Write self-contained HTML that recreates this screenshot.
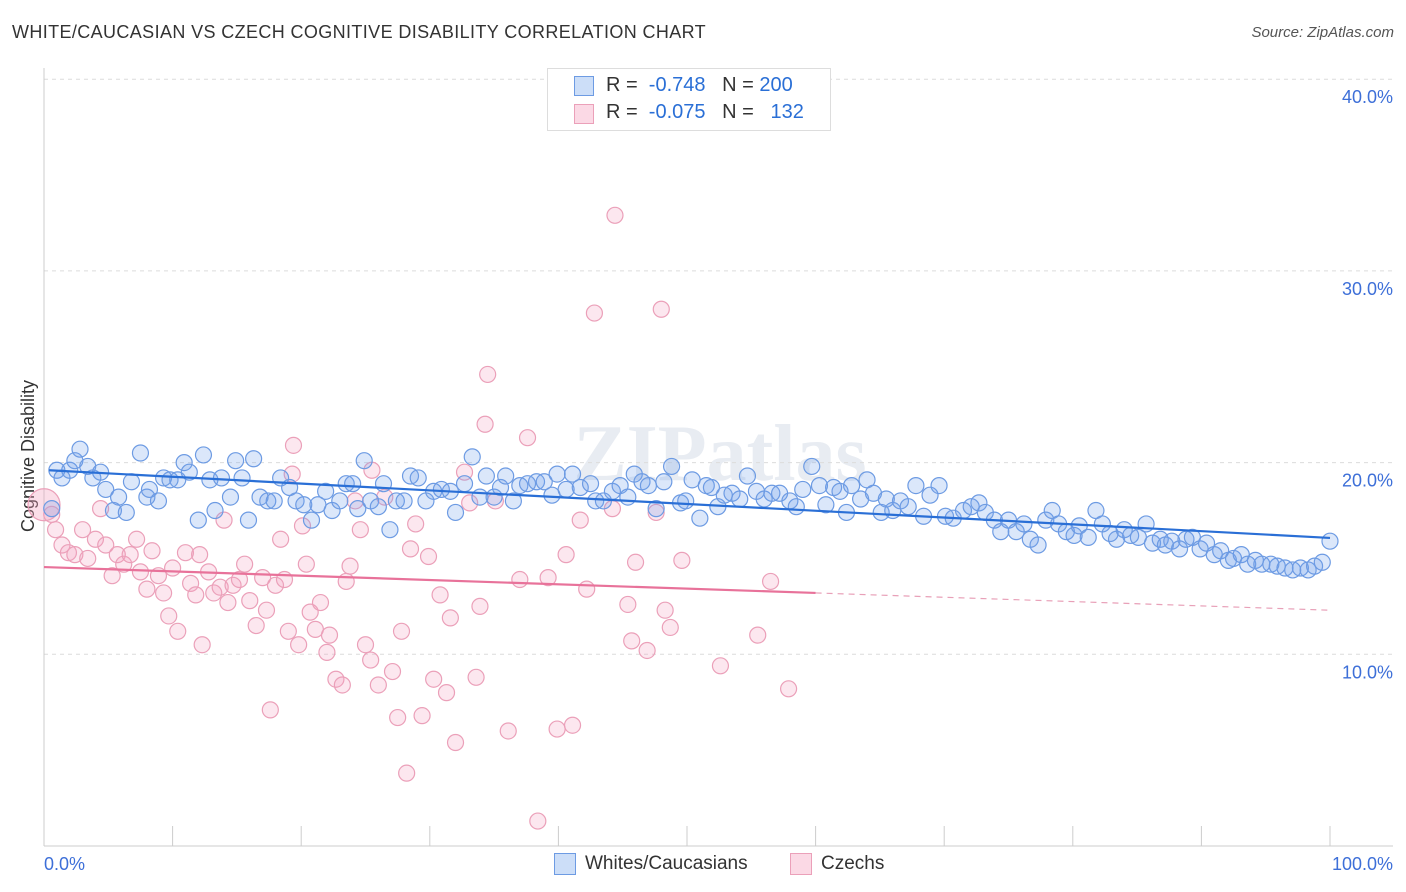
<!DOCTYPE html>
<html><head><meta charset="utf-8">
<style>
body{margin:0;background:#fff;font-family:"Liberation Sans",sans-serif;}
#wrap{position:relative;width:1406px;height:892px;overflow:hidden;}
.t{position:absolute;white-space:nowrap;}
</style></head>
<body>
<div id="wrap">
<div class="t" style="left:12px;top:22px;font-size:18px;color:#333;letter-spacing:0.38px;">WHITE/CAUCASIAN VS CZECH COGNITIVE DISABILITY CORRELATION CHART</div>
<div class="t" style="right:12px;top:24px;font-size:15px;color:#555;font-style:italic;">Source: ZipAtlas.com</div>
<svg id="svg" width="1406" height="892" style="position:absolute;left:0;top:0"></svg>
</div>
<script>
const blueX=[0.6,1.0,1.4,2.0,2.4,2.8,3.4,3.8,4.4,4.8,5.4,5.8,6.4,6.8,7.5,8.0,8.2,8.9,9.3,9.8,10.4,10.9,11.3,12.0,12.4,12.9,13.3,13.8,14.5,14.9,15.4,15.9,16.3,16.8,17.4,17.9,18.4,19.1,19.6,20.2,20.8,21.3,21.9,22.4,23.0,23.5,24.0,24.4,24.9,25.4,26.0,26.4,26.9,27.4,28.0,28.5,29.1,29.7,30.3,30.9,31.6,32.0,32.7,33.3,33.9,34.4,35.0,35.5,35.9,36.5,37.0,37.6,38.3,38.9,39.5,39.9,40.6,41.1,41.7,42.5,42.9,43.5,44.2,44.8,45.4,45.9,46.5,47.0,47.6,48.2,48.8,49.5,49.9,50.4,51.0,51.5,51.9,52.4,52.9,53.5,54.1,54.7,55.4,56.0,56.6,57.2,58.0,58.5,59.0,59.7,60.3,60.8,61.4,61.9,62.4,62.8,63.5,64.0,64.5,65.1,65.5,66.0,66.6,67.2,67.8,68.4,68.9,69.6,70.1,70.7,71.5,72.1,72.7,73.2,73.9,74.4,75.0,75.6,76.2,76.7,77.3,77.9,78.4,78.9,79.5,80.1,80.5,81.2,81.8,82.3,82.9,83.4,84.0,84.5,85.1,85.7,86.2,86.8,87.2,87.7,88.3,88.8,89.3,89.9,90.4,91.0,91.5,92.1,92.5,93.1,93.6,94.2,94.7,95.4,95.9,96.5,97.1,97.7,98.3,98.8,99.4,100.0];
const blueY=[17.6,19.6,19.2,19.6,20.1,20.7,19.8,19.2,19.5,18.6,17.5,18.2,17.4,19.0,20.5,18.2,18.6,18.0,19.2,19.1,19.1,20.0,19.5,17.0,20.4,19.1,17.5,19.2,18.2,20.1,19.2,17.0,20.2,18.2,18.0,18.0,19.2,18.7,18.0,17.8,17.0,17.8,18.5,17.5,18.0,18.9,18.9,17.6,20.1,18.0,17.7,18.9,16.5,18.0,18.0,19.3,19.2,18.0,18.5,18.6,18.5,17.4,18.9,20.3,18.2,19.3,18.2,18.7,19.3,18.0,18.8,18.9,19.0,19.0,18.3,19.4,18.6,19.4,18.7,18.9,18.0,18.0,18.5,18.8,18.2,19.4,19.0,18.8,17.6,19.0,19.8,17.9,18.0,19.1,17.1,18.8,18.7,17.7,18.3,18.4,18.1,19.3,18.5,18.1,18.4,18.4,18.0,17.7,18.6,19.8,18.8,17.8,18.7,18.5,17.4,18.8,18.1,19.1,18.4,17.4,18.1,17.5,18.0,17.7,18.8,17.2,18.3,18.8,17.2,17.1,17.5,17.7,17.9,17.4,17.0,16.4,17.0,16.4,16.8,16.0,15.7,17.0,17.5,16.8,16.4,16.2,16.7,16.1,17.5,16.8,16.3,16.0,16.5,16.2,16.1,16.8,15.8,16.0,15.7,15.9,15.5,16.0,16.1,15.5,15.8,15.2,15.4,14.9,15.0,15.2,14.7,14.9,14.7,14.7,14.6,14.5,14.4,14.5,14.4,14.6,14.8,15.9];
const pinkX=[0.6,0.9,1.4,1.9,2.4,3.0,3.4,4.0,4.4,4.8,5.3,5.7,6.2,6.7,7.2,7.5,8.0,8.4,8.9,9.3,9.7,10.0,10.4,11.0,11.4,11.8,12.1,12.3,12.8,13.2,13.7,14.0,14.3,14.7,15.2,15.6,16.0,16.5,17.0,17.3,17.6,18.0,18.4,18.7,19.0,19.3,19.4,19.8,20.1,20.4,20.7,21.1,21.5,22.0,22.2,22.7,23.2,23.5,23.8,24.2,24.6,25.0,25.4,25.5,26.0,26.5,27.1,27.5,27.8,28.2,28.5,28.9,29.4,29.9,30.3,30.8,31.3,31.6,32.0,32.7,33.1,33.6,33.9,34.3,34.5,35.1,36.1,37.0,37.6,38.4,39.2,39.9,40.6,41.1,41.7,42.2,42.8,44.2,44.4,45.4,45.7,46.0,46.9,47.6,48.0,48.3,48.7,49.6,52.6,55.5,56.5,57.9];
const pinkY=[17.3,16.5,15.7,15.3,15.2,16.5,15.0,16.0,17.6,15.7,14.1,15.2,14.7,15.2,16.0,14.3,13.4,15.4,14.1,13.2,12.0,14.5,11.2,15.3,13.7,13.1,15.2,10.5,14.3,13.2,13.5,17.0,12.7,13.6,13.9,14.7,12.8,11.5,14.0,12.3,7.1,13.6,16.0,13.9,11.2,19.4,20.9,10.5,16.7,14.7,12.2,11.3,12.7,10.1,11.0,8.7,8.4,13.8,14.6,18.0,16.5,10.5,9.7,19.6,8.4,18.2,9.1,6.7,11.2,3.8,15.5,16.8,6.8,15.1,8.7,13.1,8.0,11.9,5.4,19.5,17.9,8.8,12.5,22.0,24.6,18.0,6.0,13.9,21.3,1.3,14.0,6.1,15.2,6.3,17.0,13.4,27.8,17.6,32.9,12.6,10.7,14.8,10.2,17.4,28.0,12.3,11.4,14.9,9.4,11.0,13.8,8.2];
const blueTrend=[19.6,16.07];
const pinkTrend=[14.55,12.3];
const pinkSolidEnd=60;
const yTicks=[10,20,30,40];
const yTickLabels=["10.0%","20.0%","30.0%","40.0%"];

const X0=44,X1=1330,Y0=846,YPER=19.17;
const sx=v=>X0+(X1-X0)*v/100;
const sy=v=>Y0-v*YPER;
const svg=document.getElementById('svg');
const NS='http://www.w3.org/2000/svg';
function mk(tag,attrs){const e=document.createElementNS(NS,tag);for(const k in attrs)e.setAttribute(k,attrs[k]);svg.appendChild(e);return e;}

let wm=mk('text',{x:720,y:480,'font-size':80,'text-anchor':'middle',fill:'#e8ecf2','font-family':'Liberation Serif, serif','font-weight':'bold'});
wm.textContent='ZIPatlas';



yTicks.forEach((t,i)=>{
  const g=mk('line',{x1:X0,x2:1393,y1:sy(t),y2:sy(t),stroke:'#dcdcdc','stroke-dasharray':'4,4'});
  
  
  const l=mk('text',{x:1393,y:sy(t)+24,'font-size':18,'text-anchor':'end',fill:'#3d6fd8','font-family':'Liberation Sans, sans-serif'});
  l.textContent=yTickLabels[i];
  
  
});
let ax=mk('line',{x1:X0,x2:X0,y1:68,y2:Y0,stroke:'#ccc'});


let bx=mk('line',{x1:X0,x2:1393,y1:Y0,y2:Y0,stroke:'#ccc'});


for(let i=1;i<=10;i++){
  const tk=mk('line',{x1:sx(i*10),x2:sx(i*10),y1:826,y2:Y0,stroke:'#ccc'});
  
  
}
let ytitle=mk('text',{x:34,y:456,'font-size':18,'text-anchor':'middle',fill:'#333',transform:'rotate(-90 34 456)','font-family':'Liberation Sans, sans-serif'});
ytitle.textContent='Cognitive Disability';


let xl0=mk('text',{x:44,y:870,'font-size':18,fill:'#3d6fd8','font-family':'Liberation Sans, sans-serif'});
xl0.textContent='0.0%';


let xl1=mk('text',{x:1393,y:870,'font-size':18,fill:'#3d6fd8','text-anchor':'end','font-family':'Liberation Sans, sans-serif'});
xl1.textContent='100.0%';



pinkX.forEach((x,i)=>{
  const c=mk('circle',{cx:sx(x),cy:sy(pinkY[i]),r:8,fill:'rgba(244,160,190,0.25)',stroke:'#eba0b9','stroke-width':1.2});
  
  
});
let big=mk('circle',{cx:sx(0),cy:sy(17.8),r:16,fill:'rgba(244,160,190,0.35)',stroke:'#eba0b9','stroke-width':1.2});


blueX.forEach((x,i)=>{
  const c=mk('circle',{cx:sx(x),cy:sy(blueY[i]),r:8,fill:'rgba(110,160,235,0.25)',stroke:'#6d9be3','stroke-width':1.2});
  
  
});
let bt=mk('line',{x1:sx(0.4),y1:sy(blueTrend[0]),x2:sx(100),y2:sy(blueTrend[1]),stroke:'#2a6fd6','stroke-width':2.2});


const pAt=x=>pinkTrend[0]+(pinkTrend[1]-pinkTrend[0])*x/100;
let pt=mk('line',{x1:sx(0),y1:sy(pAt(0)),x2:sx(pinkSolidEnd),y2:sy(pAt(pinkSolidEnd)),stroke:'#e8729a','stroke-width':2.2});


let pd=mk('line',{x1:sx(pinkSolidEnd),y1:sy(pAt(pinkSolidEnd)),x2:sx(100),y2:sy(pAt(100)),stroke:'#e8a0b8','stroke-width':1.2,'stroke-dasharray':'6,5'});


</script>
<div class="t" style="left:547px;top:68px;width:282px;height:61px;border:1px solid #ddd;background:#fff;">
  <div class="t" style="left:26px;top:7px;width:18px;height:18px;background:rgba(110,160,235,0.35);border:1px solid #6d9be3;"></div>
  <div class="t" style="left:58px;top:5px;font-size:20px;color:#333;">R = &nbsp;<span style="color:#2a6fd6">-0.748</span> &nbsp;&nbsp;N = <span style="color:#2a6fd6">200</span></div>
  <div class="t" style="left:26px;top:35px;width:18px;height:18px;background:rgba(244,160,190,0.4);border:1px solid #eba0b9;"></div>
  <div class="t" style="left:58px;top:32px;font-size:20px;color:#333;">R = &nbsp;<span style="color:#2a6fd6">-0.075</span> &nbsp;&nbsp;N = &nbsp;&nbsp;<span style="color:#2a6fd6">132</span></div>
</div>
<div class="t" style="left:554px;top:853px;width:20px;height:20px;background:rgba(110,160,235,0.35);border:1px solid #6d9be3;"></div>
<div class="t" style="left:585px;top:853px;font-size:19px;color:#333;">Whites/Caucasians</div>
<div class="t" style="left:790px;top:853px;width:20px;height:20px;background:rgba(244,160,190,0.4);border:1px solid #eba0b9;"></div>
<div class="t" style="left:821px;top:853px;font-size:19px;color:#333;">Czechs</div>
</body></html>
